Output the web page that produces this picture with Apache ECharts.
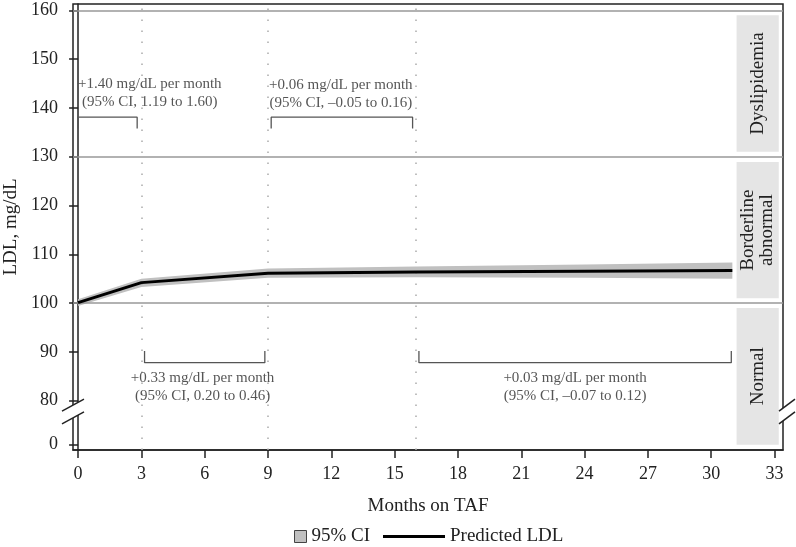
<!DOCTYPE html>
<html>
<head>
<meta charset="utf-8">
<script src="https://cdn.jsdelivr.net/npm/echarts@6/dist/echarts.min.js"></script>
<style>html,body{margin:0;padding:0;background:#fff}#c{width:796px;height:547px}</style>
</head>
<body>
<div id="c"></div>
<script>
// ---- data ----
const months = [0, 3, 9, 16, 24, 31];
const predictedLDL = [100.1, 104.2, 106.1, 106.4, 106.55, 106.7];
const ciLower = [99.4, 103.3, 105.2, 105.3, 105.2, 105.0];
const ciUpper = [100.8, 105.0, 107.1, 107.5, 107.9, 108.3];
const xTicks = [0, 3, 6, 9, 12, 15, 18, 21, 24, 27, 30, 33];
const yTicks = [0, 80, 90, 100, 110, 120, 130, 140, 150, 160];
const refLines = [100, 130, 160];
const knots = [3, 9, 16];
const zones = [
  { name: 'Dyslipidemia', from: 131, to: 159 },
  { name: 'Borderline\nabnormal', from: 101, to: 128.9 },
  { name: 'Normal', from: 0, to: 99 }
];
const bracketRanges = [[0, 2.8], [9.15, 15.85], [3.15, 8.85], [16.15, 30.95]];
const bracketLevels = [[135.8, 138.1], [135.8, 138.1], [90.2, 87.8], [90.2, 87.8]];
const annotText = [
  '+1.40 mg/dL per month\n(95% CI, 1.19 to 1.60)',
  '+0.06 mg/dL per month\n(95% CI, \u20130.05 to 0.16)',
  '+0.33 mg/dL per month\n(95% CI, 0.20 to 0.46)',
  '+0.03 mg/dL per month\n(95% CI, \u20130.07 to 0.12)'
];
const annotX = [3.4, 12.45, 5.9, 23.55];
const annotY = [143.0, 142.8, 82.8, 82.8];

// broken axis: values >= 80 are shown as-is, 0 sits just below the break
const BREAK_OFFSET = 71;
const toAxis = v => (v >= 80 ? v : v + BREAK_OFFSET);
const fromAxis = v => (v >= 80 ? v : v - BREAK_OFFSET);

const FONT = 'Liberation Serif';
const TXT = '#222';

const chart = echarts.init(document.getElementById('c'));

const series = [];
series.push({
  name: '95% CI', type: 'custom', silent: true, z: 2,
  itemStyle: { color: '#c0c0c0' },
  data: months.map((m, i) => [m, toAxis(ciLower[i]), toAxis(ciUpper[i])]),
  encode: { x: 0, y: [1, 2] },
  renderItem: (params, api) => {
    if (params.dataIndex !== 0) return null;
    const up = months.map((m, i) => api.coord([m, toAxis(ciUpper[i])]));
    const lo = months.map((m, i) => api.coord([m, toAxis(ciLower[i])])).reverse();
    return { type: 'polygon', shape: { points: up.concat(lo) }, style: { fill: '#c0c0c0' } };
  }
});
series.push({
  name: 'Predicted LDL', type: 'line', symbol: 'none',
  lineStyle: { color: '#000', width: 3 }, itemStyle: { color: '#000' },
  data: months.map((m, i) => [m, toAxis(predictedLDL[i])]), z: 5,
  markLine: {
    silent: true, symbol: 'none', label: { show: false },
    data: [
      ...refLines.map(v => ({ yAxis: toAxis(v), lineStyle: { color: '#999', width: 1.5, type: 'solid' } })),
      ...knots.map(k => ({ xAxis: k, lineStyle: { color: '#aaa', width: 1.5, type: [1.5, 9.5] } }))
    ]
  }
});
bracketRanges.forEach((r, i) => {
  const [e, h] = bracketLevels[i];
  series.push({
    type: 'line', symbol: 'none', silent: true, z: 4,
    lineStyle: { color: '#555', width: 1.3 },
    data: [[r[0], toAxis(e)], [r[0], toAxis(h)], [r[1], toAxis(h)], [r[1], toAxis(e)]]
  });
});
series.push({
  type: 'scatter', symbolSize: 1, itemStyle: { color: 'transparent' }, silent: true, z: 6,
  label: {
    show: true, position: 'inside', formatter: p => p.data[2],
    fontFamily: FONT, fontSize: 15, lineHeight: 18, color: '#2a2a2a', align: 'center'
  },
  data: annotX.map((x, i) => [x, toAxis(annotY[i]), annotText[i]])
});

chart.setOption({
  animation: false,
  backgroundColor: '#fff',
  grid: {
    left: 73, right: 13, top: 4, bottom: 97, containLabel: false, outerBoundsMode: 'none',
    show: true, borderColor: '#222', borderWidth: 1.5, backgroundColor: 'transparent'
  },
  legend: [
    {
      data: ['95% CI'], left: 294, top: 527, padding: 0, icon: 'rect', itemWidth: 12, itemHeight: 12, itemGap: 6,
      itemStyle: { color: '#c0c0c0', borderColor: '#444', borderWidth: 1 },
      textStyle: { fontFamily: FONT, fontSize: 19, color: TXT }
    },
    {
      data: ['Predicted LDL'], left: 383, top: 527, padding: 0, icon: 'rect', itemWidth: 62, itemHeight: 3,
      itemStyle: { color: '#000' },
      textStyle: { fontFamily: FONT, fontSize: 19, color: TXT }
    }
  ],
  xAxis: {
    type: 'value', min: -0.24, max: 33.4,
    name: 'Months on TAF', nameLocation: 'middle', nameGap: 47,
    nameTextStyle: { fontFamily: FONT, fontSize: 19, color: TXT },
    axisLine: { show: true, lineStyle: { color: '#222', width: 1.5 } },
    axisTick: { show: true, length: 8, customValues: xTicks, lineStyle: { color: '#222', width: 1.5 } },
    axisLabel: { customValues: xTicks, fontFamily: FONT, fontSize: 18, color: TXT, margin: 15 },
    splitLine: { show: false }
  },
  yAxis: {
    type: 'value', min: 69.9, max: 161.3,
    name: 'LDL, mg/dL', nameLocation: 'middle', nameGap: 50, nameRotate: 90,
    nameTextStyle: { fontFamily: FONT, fontSize: 19, color: TXT },
    axisLine: { show: true, lineStyle: { color: '#222', width: 1.5 } },
    axisTick: { show: true, length: 9, customValues: yTicks.map(toAxis), lineStyle: { color: '#222', width: 1.5 } },
    axisLabel: {
      customValues: yTicks.map(toAxis), fontFamily: FONT, fontSize: 18, color: TXT, margin: 15,
      formatter: v => String(Math.round(fromAxis(v)))
    },
    splitLine: { show: false }
  },
  series
});

// decorations: zone boxes and axis break marks
const g = [];
const px = (x, y) => chart.convertToPixel({ gridIndex: 0 }, [x, y]);
zones.forEach(z => {
  const a = px(31.2, toAxis(z.to));
  const b = px(33.2, toAxis(z.from));
  g.push({ type: 'rect', shape: { x: a[0], y: a[1], width: b[0] - a[0], height: b[1] - a[1] }, style: { fill: '#e5e5e5' }, z: 1 });
  g.push({
    type: 'text', x: (a[0] + b[0]) / 2, y: (a[1] + b[1]) / 2, rotation: Math.PI / 2, z: 3,
    style: { text: z.name, fontFamily: FONT, fontSize: 19, fill: TXT, align: 'center', verticalAlign: 'middle', lineHeight: 19 }
  });
});
const yb1 = px(0, 79.1)[1], yb2 = px(0, 76.5)[1];
const xl = px(-0.24, 80)[0], xr = px(33.4, 80)[0];
[[xl - 11, xl + 11], [xr - 4, xr + 12]].forEach(([x0, x1]) => {
  g.push({
    type: 'polygon', z: 10,
    shape: { points: [[x0, yb1 + 6], [x1, yb1 - 6], [x1, yb2 - 6], [x0, yb2 + 6]] },
    style: { fill: '#fff' }
  });
  [yb1, yb2].forEach(yy => {
    g.push({ type: 'line', z: 11, shape: { x1: x0, y1: yy + 6, x2: x1, y2: yy - 6 }, style: { stroke: '#222', lineWidth: 1.5 } });
  });
});
chart.setOption({ graphic: g });
</script>
</body>
</html>
